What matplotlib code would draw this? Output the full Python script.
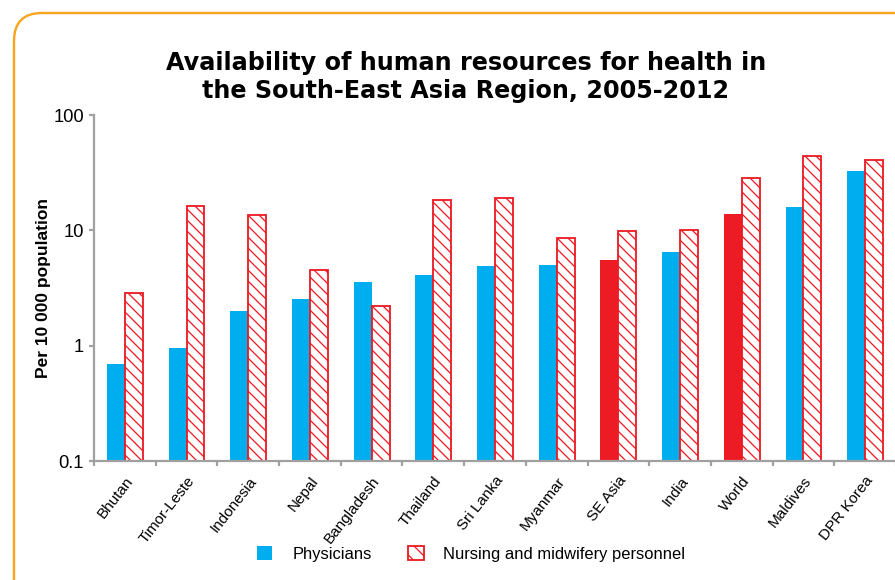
import matplotlib
matplotlib.use("Agg")
import matplotlib.pyplot as plt
from matplotlib.patches import Patch, FancyBboxPatch
from matplotlib.transforms import IdentityTransform
from matplotlib.ticker import FixedLocator, NullLocator
import numpy as np

categories = ["Bhutan", "Timor-Leste", "Indonesia", "Nepal", "Bangladesh", "Thailand",
              "Sri Lanka", "Myanmar", "SE Asia", "India", "World", "Maldives", "DPR Korea"]
physicians = [0.69, 0.95, 2.0, 2.53, 3.56, 4.07, 4.87, 4.96, 5.52, 6.43, 13.8, 15.8, 32.4]
nursing = [2.87, 16.2, 13.7, 4.55, 2.19, 18.3, 19.1, 8.6, 9.84, 9.98, 28.7, 44.2, 40.6]
highlight = ["SE Asia", "World"]
y_ticks = [0.1, 1, 10, 100]
y_tick_labels = ["0.1", "1", "10", "100"]
title = "Availability of human resources for health in\nthe South-East Asia Region, 2005-2012"
ylabel = "Per 10 000 population"
legend_labels = ["Physicians", "Nursing and midwifery personnel"]

BLUE = "#00AEEF"
RED = "#ED1C24"
GRAY = "#A0A0A0"
ORANGE = "#F7A51E"

DPI = 132
W, H = 895, 580
plt.rcParams['hatch.linewidth'] = 0.7
SANS = ['Liberation Sans', 'DejaVu Sans']
HATCH = "\\" * 4

fig = plt.figure(figsize=(W / DPI, H / DPI), dpi=DPI)

# rounded orange frame (cut off on right and bottom)
frame = FancyBboxPatch((14 + 28, -60), 1000, (H - 13) - 28 - (-60),
                       boxstyle="round,pad=28,rounding_size=28",
                       transform=IdentityTransform(), facecolor="none",
                       edgecolor=ORANGE, linewidth=1.3, clip_on=False)
fig.add_artist(frame)

ax = fig.add_axes([94 / W, 1 - 461 / H, (896 - 94) / W, (461 - 115) / H])
ax.set_yscale("log")
ax.set_ylim(0.1, 100)
ax.set_xlim(-0.5, len(categories) - 0.5)

x = np.arange(len(categories))
bw = 0.29
phys_colors = [RED if c in highlight else BLUE for c in categories]
ax.bar(x - bw / 2, physicians, width=bw, color=phys_colors, edgecolor="none", zorder=2)
ax.bar(x + bw / 2, nursing, width=bw, facecolor="white", edgecolor=RED,
       hatch=HATCH, linewidth=1.0, zorder=2)

for s in ["top", "right"]:
    ax.spines[s].set_visible(False)
for s in ["left", "bottom"]:
    ax.spines[s].set_color(GRAY)
    ax.spines[s].set_linewidth(1.2)

ax.yaxis.set_major_locator(FixedLocator(y_ticks))
ax.yaxis.set_minor_locator(NullLocator())
ax.set_yticklabels(y_tick_labels, family=SANS, fontsize=10)
ax.tick_params(axis="y", which="major", length=2.5, width=1.2, color=GRAY, pad=3)

ax.set_xticks(x)
ax.set_xticklabels(categories, rotation=52, ha="right", rotation_mode="anchor",
                   family=SANS, fontsize=8.3)
ax.tick_params(axis="x", which="major", length=0, pad=7)
ax.set_xticks(np.arange(len(categories) + 1) - 0.5, minor=True)
ax.tick_params(axis="x", which="minor", length=2.8, width=1.2, color=GRAY)

ax.set_ylabel(ylabel, family=SANS, fontweight="bold", fontsize=9.5)
ax.yaxis.set_label_coords((44 - 94) / (896 - 94), 0.5)
ax.yaxis.label.set_verticalalignment("center")

fig.text(466 / W, 1 - 77 / H, title, ha="center", va="center", fontsize=13,
         fontweight="bold", family="DejaVu Sans", linespacing=1.18)

handles = [Patch(facecolor=BLUE, edgecolor="none"),
           Patch(facecolor="white", edgecolor=RED, hatch="\\" * 3, linewidth=1.0)]
fig.legend(handles, legend_labels, loc="center", bbox_to_anchor=(471 / W, 1 - 554 / H),
           ncol=2, frameon=False, prop={"family": SANS, "size": 9},
           handlelength=0.95, handleheight=0.95, handletextpad=1.2, columnspacing=2.2)

fig.savefig("out.png", dpi=DPI)
